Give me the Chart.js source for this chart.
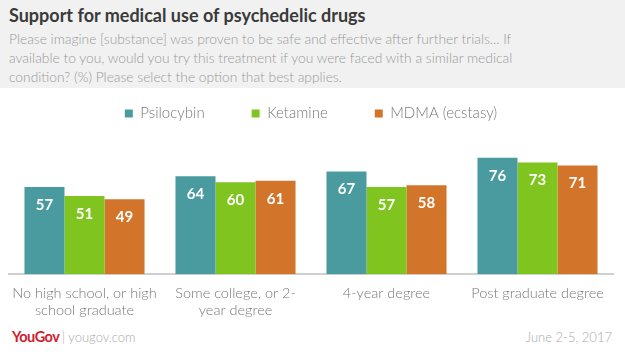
<!DOCTYPE html>
<html>
<head>
<meta charset="utf-8">
<script src="https://cdn.jsdelivr.net/npm/chart.js@4.4.0/dist/chart.umd.min.js"></script>
<style>
  body { margin: 0; width: 625px; height: 361px; background: #fff; font-family: Lato, "Open Sans", sans-serif; overflow: hidden; position: relative; }
  #header { position: absolute; left: 0; top: 0; width: 625px; height: 88px; background: #f1f1f1; }
  #title { position: absolute; left: 9px; top: 4px; font-size: 18px; font-weight: bold; color: #3a3a3a; }
  #subtitle { position: absolute; left: 9px; top: 29px; width: 615px; font-size: 13.8px; line-height: 19px; color: #999; font-weight: 300; white-space: nowrap; }
  #wrap { position: absolute; left: 0; top: 59px; width: 625px; height: 262px; }
  #logo { position: absolute; left: 12px; top: 328px; font-size: 14.5px; font-weight: bold; color: #d0202e; letter-spacing: -0.5px; }
  #logo span { color: #aaa; font-weight: 300; letter-spacing: 0; font-size: 13px; }
  #date { position: absolute; right: 13px; top: 329px; font-size: 13px; color: #aaa; font-weight: 300; }
</style>
</head>
<body>
<div id="header">
  <div id="title">Support for medical use of psychedelic drugs</div>
  <div id="subtitle">Please imagine [substance] was proven to be safe and effective after further trials... If<br>available to you, would you try this treatment if you were faced with a similar medical<br>condition? (%) Please select the option that best applies.</div>
</div>
<div id="wrap"><canvas id="chart"></canvas></div>
<div id="logo">YouGov <span>| yougov.com</span></div>
<div id="date">June 2-5, 2017</div>
<script>
// Données
const categories = [
    ["No high school, or high", "school graduate"],
    ["Some college, or 2-", "year degree"],
    ["4-year degree"],
    ["Post graduate degree"]
];
const psilocybin = [57, 64, 67, 76];
const ketamine = [51, 60, 57, 73];
const mdma = [49, 61, 58, 71];

// Étiquettes de valeurs dans les barres
const valueLabels = {
    id: 'valueLabels',
    afterDatasetsDraw(chart) {
        const ctx = chart.ctx;
        ctx.save();
        ctx.fillStyle = '#fff';
        ctx.font = 'bold 15px Lato, sans-serif';
        ctx.textAlign = 'center';
        ctx.textBaseline = 'middle';
        chart.data.datasets.forEach((ds, i) => {
            chart.getDatasetMeta(i).data.forEach((bar, j) => {
                ctx.fillText(ds.data[j], bar.x, bar.y + 18);
            });
        });
        ctx.restore();
    }
};

new Chart(document.getElementById('chart'), {
    type: 'bar',
    data: {
        labels: categories,
        datasets: [
            { label: 'Psilocybin', data: psilocybin, backgroundColor: '#4a9ba0' },
            { label: 'Ketamine', data: ketamine, backgroundColor: '#7fc41f' },
            { label: 'MDMA (ecstasy)', data: mdma, backgroundColor: '#d2752b' }
        ]
    },
    options: {
        responsive: true,
        maintainAspectRatio: false,
        animation: false,
        categoryPercentage: 0.795,
        barPercentage: 1,
        layout: { padding: { left: 9, right: 12, top: 0, bottom: 0 } },
        plugins: {
            legend: {
                labels: {
                    boxWidth: 8,
                    boxHeight: 8,
                    padding: 47,
                    color: '#777',
                    font: { size: 15, family: 'Lato, sans-serif', weight: '300' }
                }
            },
            tooltip: { enabled: false }
        },
        scales: {
            x: {
                grid: { display: false },
                border: { color: '#d0d0d0', width: 2 },
                ticks: { color: '#777', font: { size: 14.5, family: 'Lato, sans-serif', weight: '300' }, padding: 2, maxRotation: 0, minRotation: 0, autoSkip: false }
            },
            y: { display: false, min: 0, max: 93.5 }
        }
    },
    plugins: [valueLabels]
});
</script>
</body>
</html>
